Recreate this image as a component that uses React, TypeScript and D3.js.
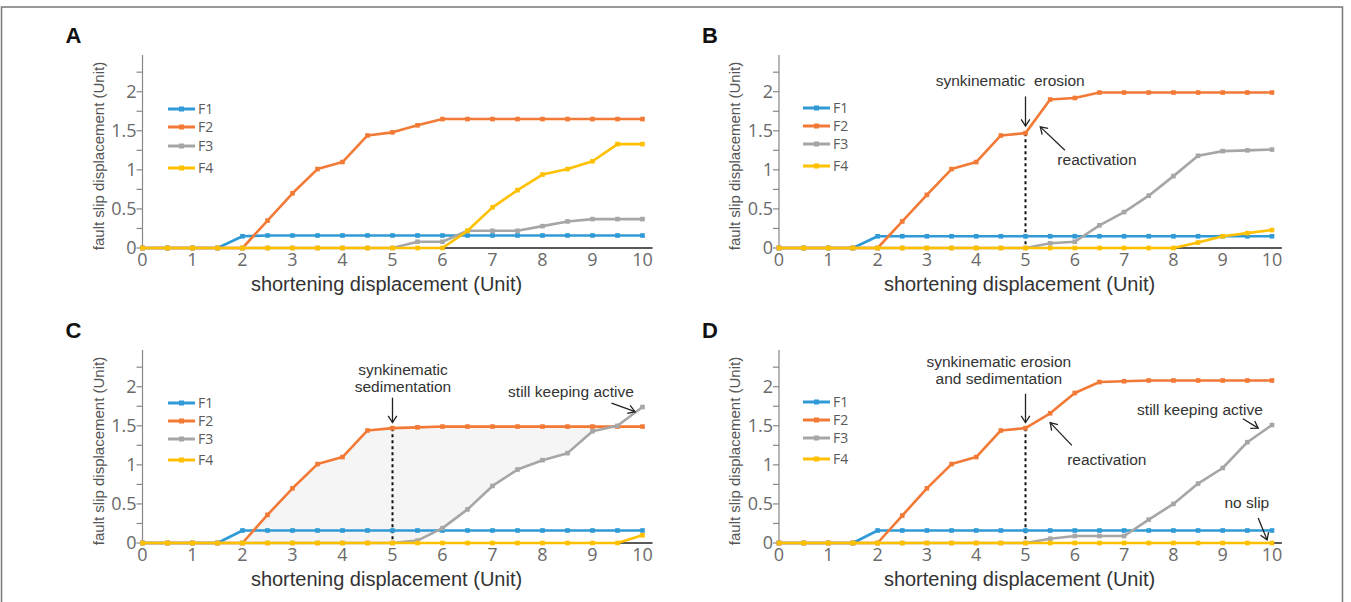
import React from "react";
import * as d3 from "d3";

// Shortening displacement steps (Unit)
const shortening = [0, 0.5, 1, 1.5, 2, 2.5, 3, 3.5, 4, 4.5, 5, 5.5, 6, 6.5, 7, 7.5, 8, 8.5, 9, 9.5, 10];
const xTickValues = [0, 1, 2, 3, 4, 5, 6, 7, 8, 9, 10];
const yTickValues = [0, 0.5, 1, 1.5, 2];
const yTickLabels = ["0", "0.5", "1", "1.5", "2"];
const faultNames = ["F1", "F2", "F3", "F4"];
const faultColors = ["#2f9ad6", "#f27a36", "#a6a6a6", "#ffc000"];

// Model A: no surface processes
const aF1 = [0, 0, 0, 0, 0.15, 0.16, 0.16, 0.16, 0.16, 0.16, 0.16, 0.16, 0.16, 0.16, 0.16, 0.16, 0.16, 0.16, 0.16, 0.16, 0.16];
const aF2 = [0, 0, 0, 0, 0, 0.35, 0.7, 1.01, 1.1, 1.44, 1.48, 1.57, 1.65, 1.65, 1.65, 1.65, 1.65, 1.65, 1.65, 1.65, 1.65];
const aF3 = [0, 0, 0, 0, 0, 0, 0, 0, 0, 0, 0, 0.08, 0.08, 0.22, 0.22, 0.22, 0.28, 0.34, 0.37, 0.37, 0.37];
const aF4 = [0, 0, 0, 0, 0, 0, 0, 0, 0, 0, 0, 0, 0, 0.22, 0.52, 0.74, 0.94, 1.01, 1.11, 1.33, 1.33];

// Model B: synkinematic erosion
const bF1 = [0, 0, 0, 0, 0.15, 0.15, 0.15, 0.15, 0.15, 0.15, 0.15, 0.15, 0.15, 0.15, 0.15, 0.15, 0.15, 0.15, 0.15, 0.15, 0.15];
const bF2 = [0, 0, 0, 0, 0, 0.34, 0.68, 1.01, 1.1, 1.44, 1.47, 1.9, 1.92, 1.99, 1.99, 1.99, 1.99, 1.99, 1.99, 1.99, 1.99];
const bF3 = [0, 0, 0, 0, 0, 0, 0, 0, 0, 0, 0, 0.06, 0.08, 0.29, 0.46, 0.67, 0.92, 1.18, 1.24, 1.25, 1.26];
const bF4 = [0, 0, 0, 0, 0, 0, 0, 0, 0, 0, 0, 0, 0, 0, 0, 0, 0, 0.07, 0.15, 0.19, 0.23];

// Model C: synkinematic sedimentation
const cF1 = [0, 0, 0, 0, 0.16, 0.16, 0.16, 0.16, 0.16, 0.16, 0.16, 0.16, 0.16, 0.16, 0.16, 0.16, 0.16, 0.16, 0.16, 0.16, 0.16];
const cF2 = [0, 0, 0, 0, 0, 0.36, 0.7, 1.01, 1.1, 1.44, 1.47, 1.48, 1.49, 1.49, 1.49, 1.49, 1.49, 1.49, 1.49, 1.49, 1.49];
const cF3 = [0, 0, 0, 0, 0, 0, 0, 0, 0, 0, 0, 0.03, 0.19, 0.43, 0.73, 0.94, 1.06, 1.15, 1.43, 1.5, 1.74];
const cF4 = [0, 0, 0, 0, 0, 0, 0, 0, 0, 0, 0, 0, 0, 0, 0, 0, 0, 0, 0, 0, 0.1];

// Model D: synkinematic erosion and sedimentation
const dF1 = [0, 0, 0, 0, 0.16, 0.16, 0.16, 0.16, 0.16, 0.16, 0.16, 0.16, 0.16, 0.16, 0.16, 0.16, 0.16, 0.16, 0.16, 0.16, 0.16];
const dF2 = [0, 0, 0, 0, 0, 0.35, 0.7, 1.01, 1.1, 1.44, 1.47, 1.66, 1.92, 2.06, 2.07, 2.08, 2.08, 2.08, 2.08, 2.08, 2.08];
const dF3 = [0, 0, 0, 0, 0, 0, 0, 0, 0, 0, 0, 0.055, 0.09, 0.09, 0.09, 0.3, 0.5, 0.76, 0.96, 1.29, 1.51];
const dF4 = [0, 0, 0, 0, 0, 0, 0, 0, 0, 0, 0, 0, 0, 0, 0, 0, 0, 0, 0, 0, 0];

type Label = { text: string[]; x: number; y: number };
type Arrow = { x1: number; y1: number; x2: number; y2: number };

type Panel = {
  letter: string;
  left: number;
  width: number;
  base: number;
  series: number[][];
  legendX: number;
  legendY: number[];
  marker?: number; // x of the dotted marker line
  labels: Label[];
  arrows: Arrow[];
  shade?: [number, number];
};

const Y_MAX = 2.47;
const Y_PX = 193;

const panels: Panel[] = [
  {
    letter: "A", left: 142.5, width: 500, base: 248,
    series: [aF1, aF2, aF3, aF4],
    legendX: 168, legendY: [109, 127, 146, 168],
    labels: [], arrows: [],
  },
  {
    letter: "B", left: 779, width: 493, base: 248,
    series: [bF1, bF2, bF3, bF4],
    legendX: 803, legendY: [108, 126, 144, 166],
    marker: 5,
    labels: [
      { text: ["synkinematic  erosion"], x: 4.69, y: 2.07 },
      { text: ["reactivation"], x: 6.45, y: 1.06 },
    ],
    arrows: [
      { x1: 5, y1: 1.94, x2: 5, y2: 1.56 },
      { x1: 5.8, y1: 1.25, x2: 5.3, y2: 1.55 },
    ],
  },
  {
    letter: "C", left: 142.5, width: 500, base: 543,
    series: [cF1, cF2, cF3, cF4],
    legendX: 168, legendY: [403, 421, 439, 460],
    marker: 5,
    shade: [2, 9.5],
    labels: [
      { text: ["synkinematic", "sedimentation"], x: 5.21, y: 2.15 },
      { text: ["still keeping active"], x: 8.57, y: 1.87 },
    ],
    arrows: [
      { x1: 5, y1: 1.86, x2: 5, y2: 1.54 },
      { x1: 9.38, y1: 1.79, x2: 9.85, y2: 1.68 },
    ],
  },
  {
    letter: "D", left: 779, width: 493, base: 543,
    series: [dF1, dF2, dF3, dF4],
    legendX: 803, legendY: [402, 420, 438, 459],
    marker: 5,
    labels: [
      { text: ["synkinematic erosion", "and sedimentation"], x: 4.46, y: 2.25 },
      { text: ["reactivation"], x: 6.65, y: 1.0 },
      { text: ["still keeping active"], x: 8.54, y: 1.64 },
      { text: ["no slip"], x: 9.49, y: 0.45 },
    ],
    arrows: [
      { x1: 5, y1: 1.91, x2: 5, y2: 1.54 },
      { x1: 5.94, y1: 1.25, x2: 5.5, y2: 1.54 },
      { x1: 9.41, y1: 1.59, x2: 9.72, y2: 1.47 },
      { x1: 9.72, y1: 0.32, x2: 9.9, y2: 0.04 },
    ],
  },
];

const FONT = "'Liberation Sans', Arial, sans-serif";
const TICK_FONT = "'Open Sans', 'Noto Sans', sans-serif";

function ArrowMark({ x1, y1, x2, y2 }: { x1: number; y1: number; x2: number; y2: number }) {
  const ang = Math.atan2(y2 - y1, x2 - x1);
  const len = 8;
  const spread = Math.PI / 5.5;
  const ax = x2 - len * Math.cos(ang - spread);
  const ay = y2 - len * Math.sin(ang - spread);
  const bx = x2 - len * Math.cos(ang + spread);
  const by = y2 - len * Math.sin(ang + spread);
  return (
    <g stroke="#222" strokeWidth={1.3} fill="none">
      <line x1={x1} y1={y1} x2={x2} y2={y2} />
      <polyline points={`${ax},${ay} ${x2},${y2} ${bx},${by}`} />
    </g>
  );
}

function PanelChart({ p }: { p: Panel }) {
  const x = d3.scaleLinear().domain([0, 10]).range([p.left, p.left + p.width]);
  const y = d3.scaleLinear().domain([0, Y_MAX]).range([p.base, p.base - Y_PX]);
  const line = d3
    .line<number>()
    .x((_, i) => x(shortening[i]))
    .y((d) => y(d));
  const minorTicks = d3.range(0, 2.5, 0.25);

  let shadePath: string | null = null;
  if (p.shade) {
    const [s0, s1] = p.shade;
    const idx = shortening.map((_, i) => i).filter((i) => shortening[i] >= s0 && shortening[i] <= s1);
    const area = d3
      .area<number>()
      .x((i) => x(shortening[i]))
      .y0((i) => y(Math.min(p.series[2][i], p.series[1][i])))
      .y1((i) => y(p.series[1][i]));
    shadePath = area(idx);
  }

  const midX = (x(0) + x(10)) / 2;
  const midY = p.base - 92;

  return (
    <g fontFamily={FONT}>
      <text x={p.left - 77} y={p.base - 205} fontSize={22} fontWeight="bold" fill="#111">
        {p.letter}
      </text>

      {shadePath && <path d={shadePath} fill="#f5f5f5" />}

      {/* y axis */}
      <line x1={x(0)} x2={x(0)} y1={y(0)} y2={y(Y_MAX)} stroke="#888" strokeWidth={1.2} />
      {minorTicks.map((t) => (
        <line key={t} x1={x(0) - 6} x2={x(0)} y1={y(t)} y2={y(t)} stroke="#888" strokeWidth={1.2} />
      ))}
      {yTickValues.map((t, i) => (
        <text key={t} x={x(0) - 6} y={y(t)} dy="0.36em" textAnchor="end" fontSize={18} fill="#6a6a6a" fontFamily={TICK_FONT}>
          {yTickLabels[i]}
        </text>
      ))}
      {/* x axis */}
      <line x1={x(0)} x2={x(10.2)} y1={y(0)} y2={y(0)} stroke="#222" strokeWidth={1.4} />
      {xTickValues.map((t) => (
        <text key={t} x={x(t)} y={y(0) + 18} textAnchor="middle" fontSize={18} fill="#6a6a6a" fontFamily={TICK_FONT}>
          {t}
        </text>
      ))}
      <text x={midX - 6} y={p.base + 43} textAnchor="middle" fontSize={20} fill="#333">
        shortening displacement (Unit)
      </text>
      <text
        transform={`translate(${x(0) - 44},${midY}) rotate(-90)`}
        textAnchor="middle"
        dy="0.35em"
        fontSize={15}
        fill="#555"
      >
        fault slip displacement (Unit)
      </text>

      {/* dotted marker for the onset of surface processes */}
      {p.marker !== undefined && (
        <line
          x1={x(p.marker)}
          x2={x(p.marker)}
          y1={y(p.series[1][shortening.indexOf(p.marker)])}
          y2={y(0)}
          stroke="#111"
          strokeWidth={2}
          strokeDasharray="3,3"
        />
      )}

      {/* fault series */}
      {p.series.map((vals, si) => (
        <g key={si}>
          <path d={line(vals) || ""} fill="none" stroke={faultColors[si]} strokeWidth={2.6} strokeLinejoin="round" />
          {vals.map((v, i) => (
            <rect key={i} x={x(shortening[i]) - 2.3} y={y(v) - 2.3} width={4.6} height={4.6} fill={faultColors[si]} />
          ))}
        </g>
      ))}

      {/* legend */}
      {faultNames.map((name, i) => (
        <g key={name}>
          <line
            x1={p.legendX}
            x2={p.legendX + 27}
            y1={p.legendY[i]}
            y2={p.legendY[i]}
            stroke={faultColors[i]}
            strokeWidth={3}
          />
          <rect x={p.legendX + 11} y={p.legendY[i] - 2.5} width={5} height={5} fill={faultColors[i]} />
          <text x={p.legendX + 30} y={p.legendY[i]} dy="0.36em" fontSize={14} fill="#5a5a5a" fontFamily={TICK_FONT}>
            {name}
          </text>
        </g>
      ))}

      {/* annotations */}
      {p.labels.map((l, i) => (
        <text key={i} x={x(l.x)} y={y(l.y)} textAnchor="middle" fontSize={15.5} fill="#333" style={{ whiteSpace: "pre" }}>
          {l.text.map((t, j) => (
            <tspan key={j} x={x(l.x)} dy={j === 0 ? 0 : 17}>
              {t}
            </tspan>
          ))}
        </text>
      ))}
      {p.arrows.map((a, i) => (
        <ArrowMark key={i} x1={x(a.x1)} y1={y(a.y1)} x2={x(a.x2)} y2={y(a.y2)} />
      ))}
    </g>
  );
}

export default function App() {
  return (
    <div style={{ position: "absolute", left: 0, top: 0 }}>
      <svg width={1351} height={602} style={{ display: "block", background: "#fff" }}>
        <rect x={1.5} y={7} width={1341} height={610} fill="none" stroke="#777" strokeWidth={1.5} />
        {panels.map((p) => (
          <PanelChart key={p.letter} p={p} />
        ))}
      </svg>
    </div>
  );
}
